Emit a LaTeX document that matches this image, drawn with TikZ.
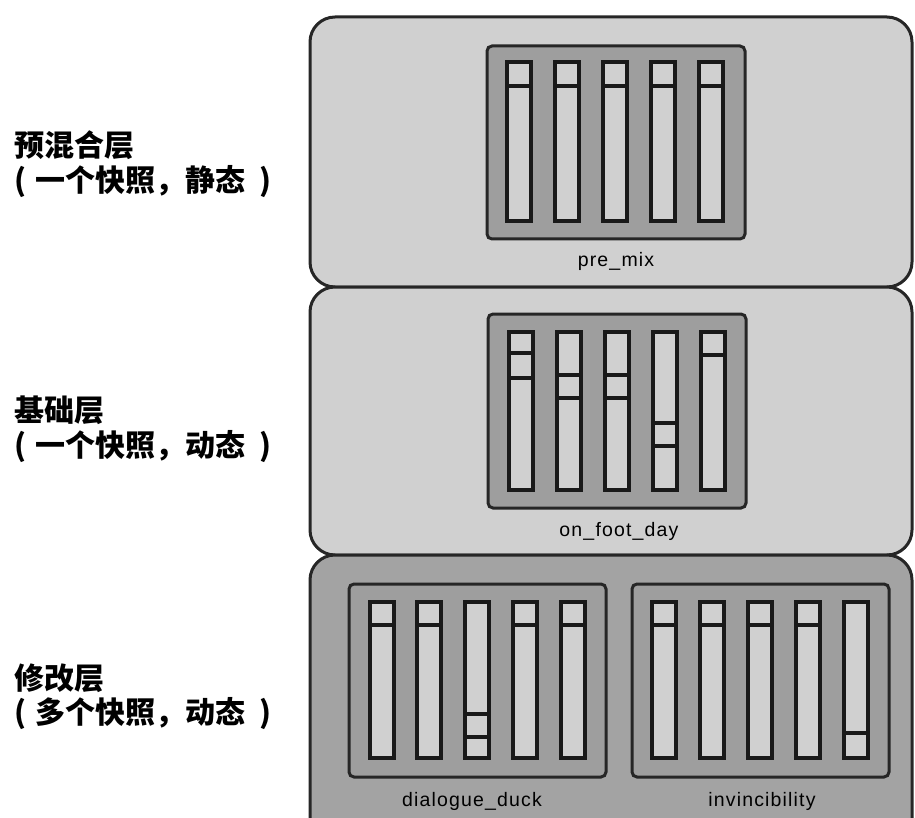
\documentclass[tikz,border=0pt]{standalone}
\usepackage{fontspec}
\setsansfont{Liberation Sans}
\newfontfamily\cjk{Noto Sans CJK SC}
\newfontfamily\lblfont{Liberation Sans}[LetterSpace=6]
\definecolor{panellight}{RGB}{208,208,208}
\definecolor{paneldark}{RGB}{163,163,163}
\definecolor{boxdark}{RGB}{158,158,158}
\definecolor{barfill}{RGB}{208,208,208}
\tikzset{
  panel/.style={draw=black!85, line width=3pt, rounded corners=25pt},
  mixbox/.style={draw=black!85, line width=3pt, rounded corners=5pt, fill=boxdark},
  bar/.style={draw=black!90, line width=3.2pt, fill=barfill},
  seg/.style={draw=black!90, line width=3.2pt},
  snapname/.style={font=\lblfont\fontsize{19.5}{22}\selectfont, inner sep=0pt},
  layername/.style={font=\cjk\bfseries\fontsize{30}{34}\selectfont, anchor=west, inner sep=0pt},
}
% \fader{x}{ytop}{ybot}{list of segment lines}
\newcommand{\fader}[4]{%
  \draw[bar] (#1,#2) rectangle ++(24,#3-#2);
  \foreach \yy in {#4} {\draw[seg] (#1,\yy) -- ++(24,0);}
}
\begin{document}
\begin{tikzpicture}[x=1pt,y=-1pt]
\useasboundingbox (0,0) rectangle (915,818);
\begin{scope}
\clip (0,0) rectangle (915,818);
% panels
\draw[panel, fill=panellight] (310,17) rectangle (912,287);
\draw[panel, fill=panellight] (310,287) rectangle (912,555);
\draw[panel, fill=paneldark] (310,555) rectangle (912,845);
\end{scope}

% pre_mix
\draw[mixbox] (487,46) rectangle (745,239);
\foreach \xx in {507,555,603,651,699} {\fader{\xx}{62}{221}{86}}
\node[snapname] (premix) at (616,261) {pre\_mix};

% on_foot_day
\draw[mixbox] (488,314) rectangle (746,508);
\fader{509}{332}{490}{353,378}
\fader{557}{332}{490}{375,398}
\fader{605}{332}{490}{375,398}
\fader{653}{332}{490}{423,446}
\fader{701}{332}{490}{355}
\node[snapname] (onfoot) at (619,531) {on\_foot\_day};

% dialogue_duck
\draw[mixbox] (349,584) rectangle (606,777);
\fader{370}{602}{758}{625}
\fader{417}{602}{758}{625}
\fader{465}{602}{758}{714,737}
\fader{513}{602}{758}{625}
\fader{561}{602}{758}{625}
\node[snapname] (duck) at (472,801) {dialogue\_duck};

% invincibility
\draw[mixbox] (632,584) rectangle (889,777);
\fader{652}{602}{758}{625}
\fader{700}{602}{758}{625}
\fader{748}{602}{758}{625}
\fader{796}{602}{758}{625}
\fader{844}{602}{758}{733}
\node[snapname] (invinc) at (762,801) {invincibility};

% layer names
\node[layername] (l1a) at (14,145) {预混合层};
\node[layername] (l1b) at (14,182) {(\kern9pt 一个快照，静态\kern14pt)};
\node[layername] (l2a) at (14,410) {基础层};
\node[layername] (l2b) at (14,447) {(\kern9pt 一个快照，动态\kern14pt)};
\node[layername] (l3a) at (14,678) {修改层};
\node[layername] (l3b) at (14,714) {(\kern9pt 多个快照，动态\kern14pt)};
\end{tikzpicture}
\end{document}
